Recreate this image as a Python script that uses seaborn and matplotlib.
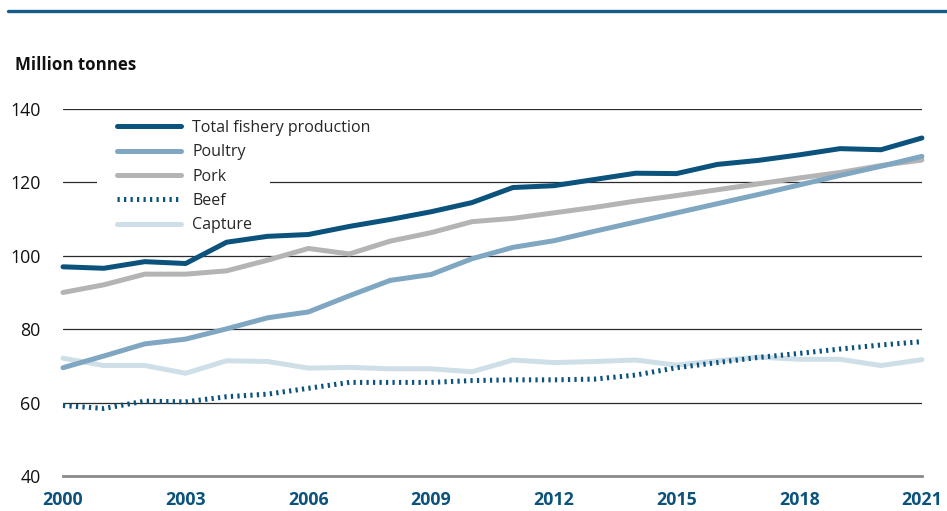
import numpy as np
import pandas as pd
import seaborn as sns
import matplotlib.pyplot as plt
from matplotlib.lines import Line2D
from matplotlib.patches import Rectangle

# Values (million tonnes)
years = list(range(2000, 2022))
total_fishery = [97.0, 96.6, 98.4, 97.9, 103.7, 105.3, 105.8, 108.0, 109.9, 112.0, 114.5,
                 118.6, 119.1, 120.8, 122.5, 122.4, 124.9, 126.0, 127.5, 129.2, 128.9, 132.1]
poultry = [69.5, 72.7, 76.0, 77.3, 80.1, 83.1, 84.7, 89.1, 93.3, 94.9, 99.2,
           102.3, 104.1, 106.7, 109.2, 111.7, 114.2, 116.7, 119.3, 121.9, 124.4, 127.1]
pork = [90.0, 92.1, 95.0, 95.0, 95.9, 98.8, 102.0, 100.5, 104.0, 106.3, 109.3,
        110.2, 111.7, 113.2, 114.9, 116.4, 118.0, 119.6, 121.2, 122.7, 124.6, 126.1]
beef = [59.2, 58.4, 60.4, 60.2, 61.6, 62.3, 63.9, 65.5, 65.5, 65.5, 66.0,
        66.2, 66.2, 66.4, 67.5, 69.5, 70.9, 72.3, 73.4, 74.6, 75.7, 76.6]
capture = [72.1, 70.1, 70.1, 68.0, 71.4, 71.2, 69.4, 69.6, 69.2, 69.2, 68.4,
           71.6, 70.9, 71.2, 71.6, 70.2, 71.4, 72.4, 71.8, 71.8, 70.1, 71.7]

series_names = ["Total fishery production", "Poultry", "Pork", "Beef", "Capture"]
series_colors = ["#0b527d", "#7fa7c1", "#b4b4b4", "#0b527d", "#cfdfe8"]
y_ticks = [40, 60, 80, 100, 120, 140]
x_ticks = [2000, 2003, 2006, 2009, 2012, 2015, 2018, 2021]

df = pd.DataFrame({"year": years, "Total fishery production": total_fishery,
                   "Poultry": poultry, "Pork": pork, "Beef": beef, "Capture": capture})
long_df = df.melt(id_vars="year", var_name="series", value_name="value")

sns.set_style("white")
plt.rcParams["font.family"] = ["Open Sans", "DejaVu Sans"]

fig = plt.figure(figsize=(9.47, 5.11), dpi=100)
ax = fig.add_axes([0.0665, 0.0685, 0.907, 0.7182])

dot_style = (0, (0.45, 0.85))
# draw back to front so the total line sits on top
for name in ["Capture", "Beef", "Pork", "Poultry", "Total fishery production"]:
    color = series_colors[series_names.index(name)]
    sub = long_df[long_df["series"] == name]
    if name == "Beef":
        sns.lineplot(data=sub, x="year", y="value", ax=ax, color=color, lw=3.6,
                     linestyle=dot_style, dash_capstyle="butt", clip_on=False, zorder=3)
    else:
        sns.lineplot(data=sub, x="year", y="value", ax=ax, color=color, lw=3.6,
                     solid_capstyle="round", clip_on=False, zorder=3)

handles = []
for name, color in zip(series_names, series_colors):
    if name == "Beef":
        handles.append(Line2D([], [], color=color, lw=3.6, linestyle=dot_style,
                              dash_capstyle="butt", label=name))
    else:
        handles.append(Line2D([], [], color=color, lw=3.6, solid_capstyle="round",
                              label=name))

ax.set_xlim(2000, 2021)
ax.set_ylim(40, 140)
ax.set_yticks(y_ticks)
ax.set_xticks(x_ticks)
ax.set_xlabel("")
ax.set_ylabel("")
ax.grid(axis="y", color="#2b2b2b", lw=0.9)
ax.grid(axis="x", visible=False)
for side in ["top", "right", "left"]:
    ax.spines[side].set_visible(False)
ax.spines["bottom"].set_color("#8a8a8a")
ax.spines["bottom"].set_linewidth(2)
ax.tick_params(axis="y", length=0, pad=16, labelsize=12.8, labelcolor="#111111")
ax.tick_params(axis="x", length=0, pad=11, labelsize=12.8, labelcolor="#0b527d")
for lab in ax.get_xticklabels():
    lab.set_fontweight("bold")

# white gap behind the legend where it cuts the 120 gridline
ax.add_patch(Rectangle((97 / 947, 1 - 188 / 511), 173 / 947, 12 / 511,
                       facecolor="white", edgecolor="none", clip_on=False,
                       transform=fig.transFigure, zorder=2.7))

leg = ax.legend(handles=handles, loc="upper left", bbox_to_anchor=(0.0629, 0.970),
                frameon=False, fontsize=11.5, handlelength=4.0, handletextpad=0.7,
                labelspacing=0.52, borderpad=0, borderaxespad=0)
leg.set_zorder(5)

fig.text(15 / 947, 1 - 65 / 511, "Million tonnes", fontsize=12.2, fontweight="bold",
         va="center", ha="left", color="#111111")
fig.add_artist(Line2D([8 / 947, 1.0], [1 - 11 / 511, 1 - 11 / 511],
                      color="#155c88", lw=2.4, transform=fig.transFigure))

fig.savefig("out.png", dpi=100)
